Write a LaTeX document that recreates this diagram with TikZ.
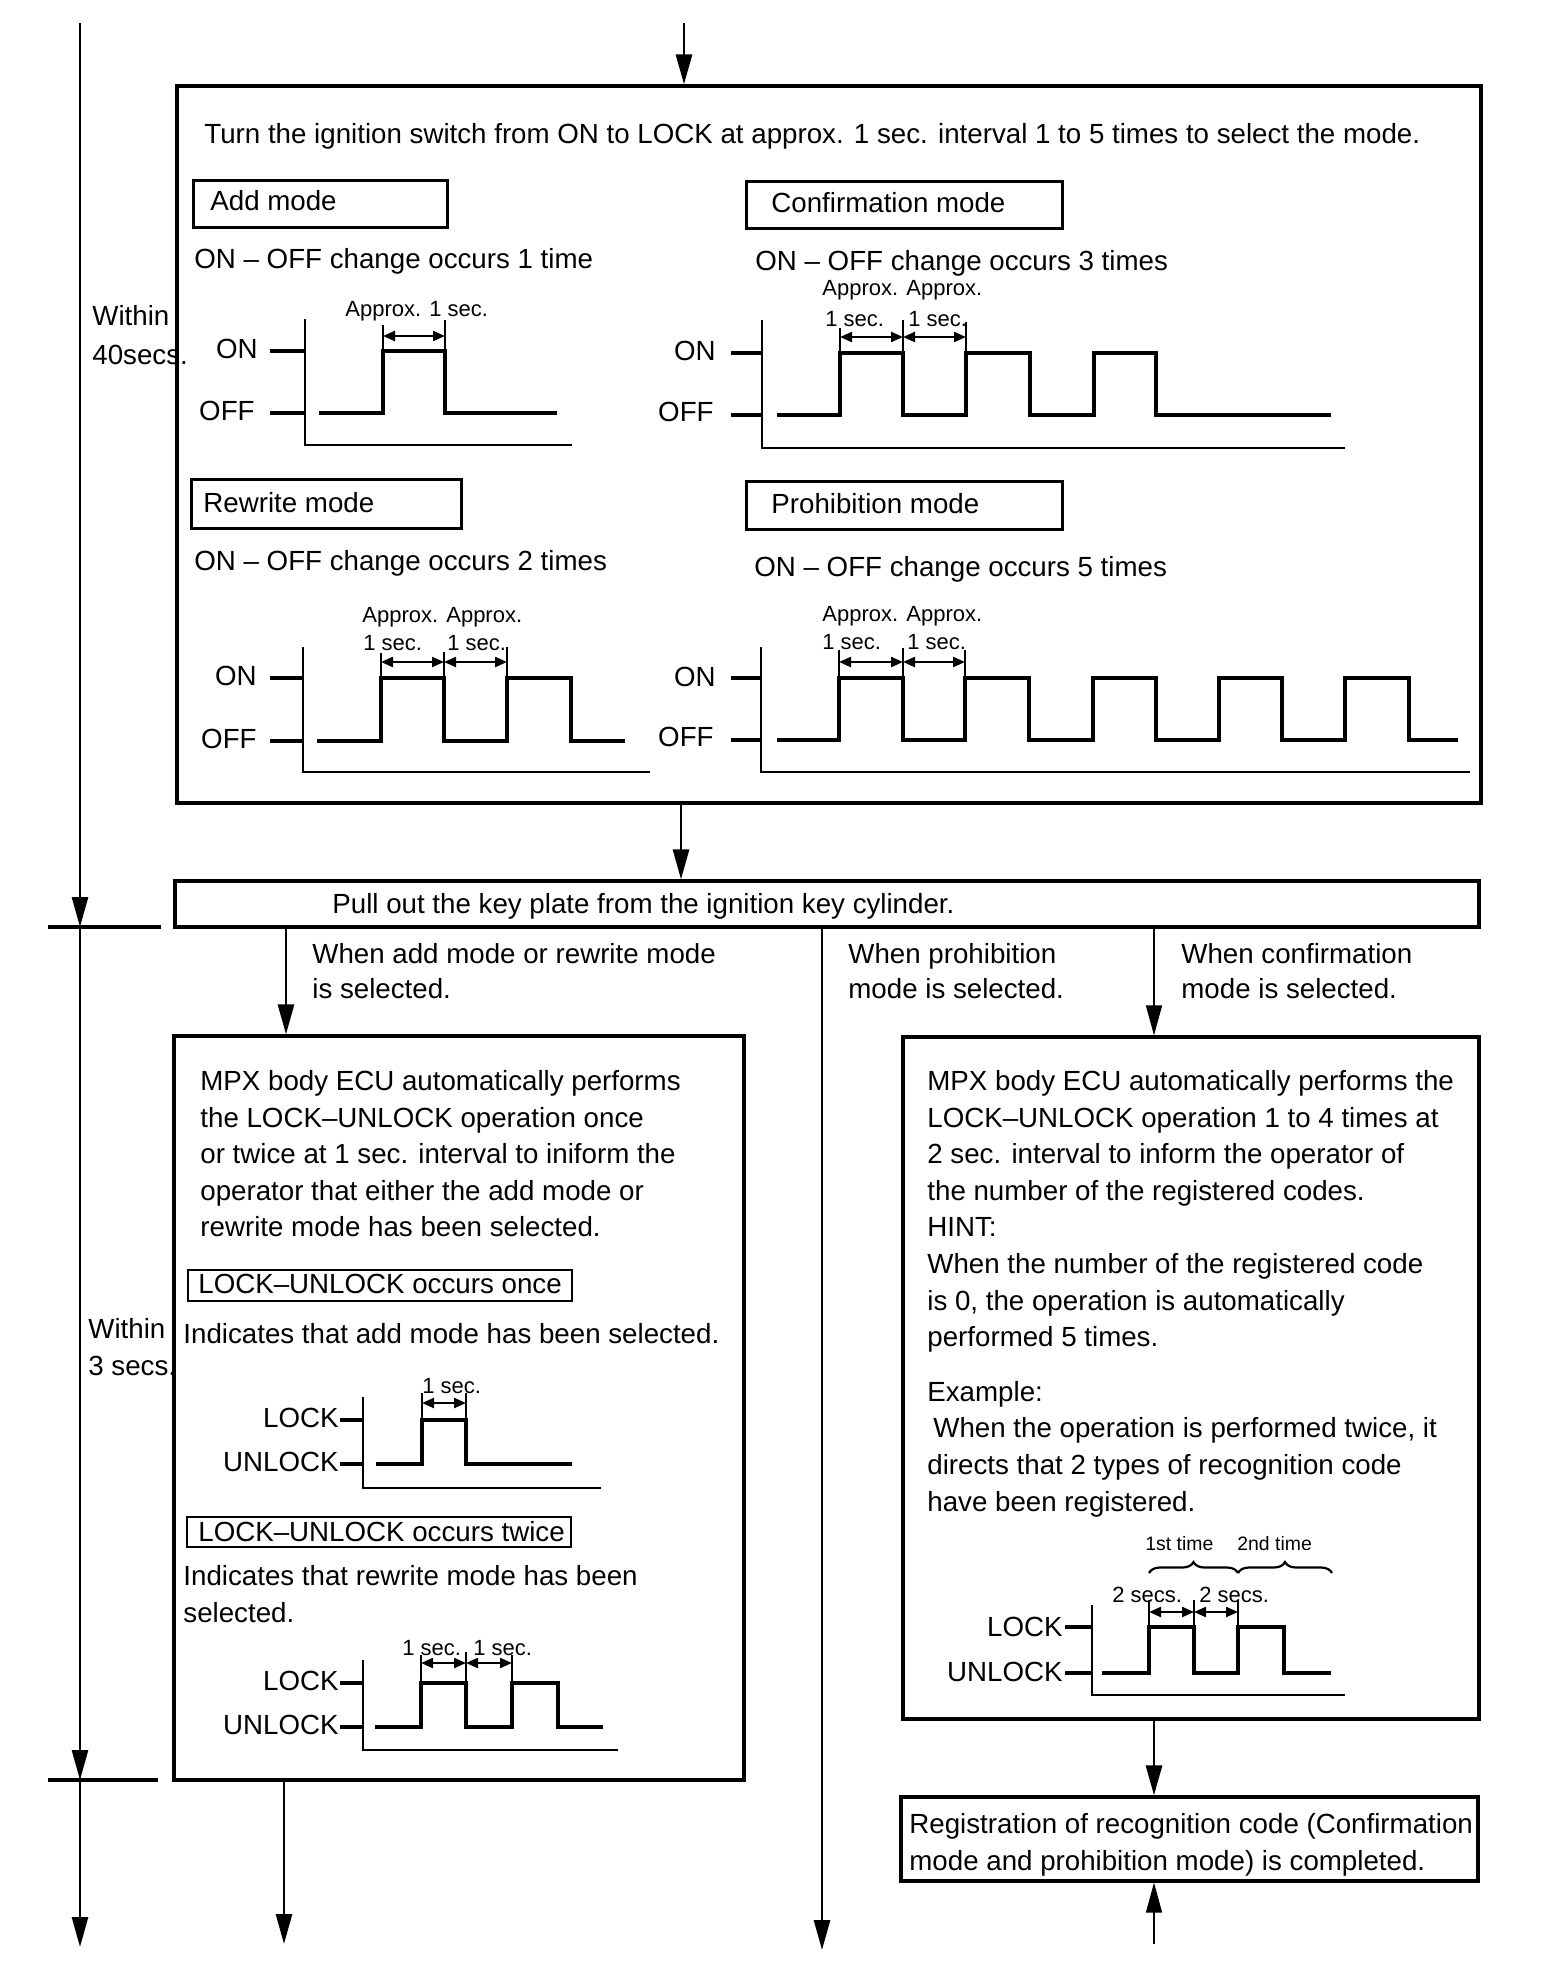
\documentclass[tikz,border=0pt]{standalone}
\usepackage{fontspec}
\setmainfont{Liberation Sans}
\usetikzlibrary{arrows.meta,decorations.pathreplacing,fit}
\begin{document}
\begin{tikzpicture}[x=0.5pt,y=-0.5pt,
  every node/.style={inner sep=0pt},
  mainf/.style={font=\fontsize{13.85}{18.3}\selectfont},
  smallf/.style={font=\fontsize{11}{13}\selectfont},
  tinyf/.style={font=\fontsize{9.7}{12}\selectfont},
  txt/.style={mainf, anchor=base west},
  stxt/.style={smallf, anchor=base west},
  para/.style={mainf, anchor=north west, align=left},
  bigbox/.style={draw, line width=1.6pt, inner sep=0pt},
  lblbox/.style={draw, line width=1.5pt, inner sep=0pt},
  thinbox/.style={draw, line width=1pt, inner sep=0pt},
  flow/.style={line width=1.4pt, -{Triangle[length=15pt,width=8pt]}},
  thinflow/.style={line width=0.7pt, -{Triangle[length=15pt,width=8pt]}},
  tickline/.style={line width=1.6pt},
  sig/.style={line width=1.6pt},
  axisline/.style={line width=1.3pt},
  extline/.style={line width=0.9pt},
  dimarrow/.style={line width=1.1pt, {Triangle[length=6pt,width=5pt]}-{Triangle[length=6pt,width=5pt]}},
  lvl/.style={mainf, anchor=east},
  bracest/.style={line width=1.1pt, decorate, decoration={brace, amplitude=5.5pt}}
]
\fill[white] (0,0) rectangle (1568,1986);
\useasboundingbox (0,0) rectangle (1568,1986);

% ---------- main boxes ----------
\node[bigbox, fit={(177,86) (1481,803)}] (box1) {};
\node[bigbox, fit={(175,881) (1479,927)}] (pull) {};
\node[bigbox, fit={(174,1036) (744,1780)}] (lbox) {};
\node[bigbox, fit={(903,1037) (1479,1719)}] (rbox) {};
\node[bigbox, fit={(901,1797) (1478,1881)}] (reg) {};

% ---------- coordinates for free ends ----------
\coordinate (topin) at (684,23);
\coordinate (b1x) at (681,0);
\coordinate (lbr) at (286,0);
\coordinate (mid) at (822,1950);
\coordinate (rbr) at (1154,0);
\coordinate (lout) at (284,1944);
\coordinate (rin) at (1154,1944);
\coordinate (tl0) at (80,23);
\coordinate (tk1) at (80,927);
\coordinate (tk2) at (80,1780);
\coordinate (tl3) at (80,1947);

% ---------- connectors ----------
\draw[flow] (topin) -- (box1.north -| topin);
\draw[flow] (box1.south -| b1x) -- (pull.north -| b1x);
\draw[flow] (pull.south -| lbr) -- (lbox.north -| lbr);
\draw[flow] (pull.south -| mid) -- (mid);
\draw[thinflow] (pull.south -| rbr) -- (rbox.north -| rbr);
\draw[flow] (lbox.south -| lout) -- (lout);
\draw[flow] (rbox.south -| rin) -- (reg.north -| rin);
\draw[thinflow] (rin) -- (reg.south -| rin);

% ---------- time line ----------
\draw[flow] (tl0) -- (tk1);
\draw[flow] (tk1) -- (tk2);
\draw[flow] (tk2) -- (tl3);
\draw[tickline] (48,927) -- (161,927);
\draw[tickline] (48,1780) -- (158,1780);
\node[para, font=\fontsize{13.85}{19.5}\selectfont] (w40) at (92,305) {Within\\40secs.};
\node[para, font=\fontsize{13.85}{18.5}\selectfont] (w3) at (88,1318) {Within\\3 secs.};

% ---------- box 1 content ----------
\node[txt] (turn) at (204,143) {Turn the ignition switch from ON to LOCK at approx. 1 sec. interval 1 to 5 times to select the mode.};

\node[lblbox, fit={(193,180) (447,227)}] (addb) {};
\node[txt] (addt) at (210,210) {Add mode};
\node[lblbox, fit={(746,181) (1062,228)}] (confb) {};
\node[txt] (conft) at (771,212) {Confirmation mode};
\node[lblbox, fit={(191,479) (461,528)}] (rewb) {};
\node[txt] (rewt) at (203,512) {Rewrite mode};
\node[lblbox, fit={(746,481) (1062,529)}] (prob) {};
\node[txt] (prot) at (771,513) {Prohibition mode};

\node[txt] (addc) at (194,268) {ON – OFF change occurs 1 time};
\node[txt] (confc) at (755,270) {ON – OFF change occurs 3 times};
\node[txt] (rewc) at (194,570) {ON – OFF change occurs 2 times};
\node[txt] (proc) at (754,576) {ON – OFF change occurs 5 times};

% add mode chart
\node[lvl] (aon) at (258,349) {ON};
\node[lvl] (aoff) at (255,411) {OFF};
\draw[tickline] (270,351) -- (305,351);
\draw[tickline] (270,413) -- (305,413);
\draw[axisline] (305,319) -- (305,445) -- (572,445);
\draw[sig] (319,413) -- (383,413) -- (383,351) -- (445,351) -- (445,413) -- (557,413);
\draw[extline] (383,325) -- (383,351);
\draw[extline] (445,320) -- (445,351);
\draw[dimarrow] (383,336) -- (445,336);
\node[stxt] (ad1) at (345,316) {Approx. 1 sec.};

% confirmation chart
\node[lvl] (con) at (716,351) {ON};
\node[lvl] (coff) at (714,412) {OFF};
\draw[tickline] (731,353) -- (762,353);
\draw[tickline] (731,415) -- (762,415);
\draw[axisline] (762,320) -- (762,448) -- (1345,448);
\draw[sig] (777,415) -- (840,415) -- (840,353) -- (903,353) -- (903,415) -- (966,415) -- (966,353) -- (1030,353) -- (1030,415) -- (1094,415) -- (1094,353) -- (1156,353) -- (1156,415) -- (1331,415);
\draw[extline] (840,328) -- (840,353);
\draw[extline] (903,320) -- (903,353);
\draw[extline] (966,322) -- (966,353);
\draw[dimarrow] (840,337) -- (903,337);
\draw[dimarrow] (903,337) -- (966,337);
\node[stxt] (cap) at (822,295) {Approx. Approx.};
\node[stxt] (cs1) at (825,326) {1 sec.};
\node[stxt] (cs2) at (908,326) {1 sec.};

% rewrite chart
\node[lvl] (ron) at (257,676) {ON};
\node[lvl] (roff) at (257,739) {OFF};
\draw[tickline] (270,678) -- (303,678);
\draw[tickline] (270,741) -- (303,741);
\draw[axisline] (303,647) -- (303,772) -- (650,772);
\draw[sig] (317,741) -- (381,741) -- (381,678) -- (444,678) -- (444,741) -- (507,741) -- (507,678) -- (571,678) -- (571,741) -- (625,741);
\draw[extline] (381,653) -- (381,678);
\draw[extline] (444,652) -- (444,678);
\draw[extline] (507,647) -- (507,678);
\draw[dimarrow] (381,662) -- (444,662);
\draw[dimarrow] (444,662) -- (507,662);
\node[stxt] (rap) at (362,622) {Approx. Approx.};
\node[stxt] (rs1) at (363,650) {1 sec.};
\node[stxt] (rs2) at (447,650) {1 sec.};

% prohibition chart
\node[lvl] (pon) at (716,677) {ON};
\node[lvl] (poff) at (714,737) {OFF};
\draw[tickline] (731,678) -- (761,678);
\draw[tickline] (731,740) -- (761,740);
\draw[axisline] (761,647) -- (761,772) -- (1470,772);
\draw[sig] (777,740) -- (839,740) -- (839,678) -- (903,678) -- (903,740) -- (965,740) -- (965,678) -- (1029,678) -- (1029,740) -- (1093,740) -- (1093,678) -- (1156,678) -- (1156,740) -- (1219,740) -- (1219,678) -- (1282,678) -- (1282,740) -- (1345,740) -- (1345,678) -- (1409,678) -- (1409,740) -- (1458,740);
\draw[extline] (839,650) -- (839,678);
\draw[extline] (903,648) -- (903,678);
\draw[extline] (965,650) -- (965,678);
\draw[dimarrow] (839,662) -- (903,662);
\draw[dimarrow] (903,662) -- (965,662);
\node[stxt] (pap) at (822,621) {Approx. Approx.};
\node[stxt] (ps1) at (822,649) {1 sec.};
\node[stxt] (ps2) at (907,649) {1 sec.};

% ---------- pull-out box and branch labels ----------
\node[txt] (pullt) at (332,913) {Pull out the key plate from the ignition key cylinder.};
\node[para, font=\fontsize{13.85}{17.5}\selectfont] (wadd) at (312,943) {When add mode or rewrite mode\\is selected.};
\node[para, font=\fontsize{13.85}{17.5}\selectfont] (wpro) at (848,943) {When prohibition\\mode is selected.};
\node[para, font=\fontsize{13.85}{17.5}\selectfont] (wcon) at (1181,943) {When confirmation\\mode is selected.};

% ---------- left box content ----------
\node[para] (lpara) at (200,1070) {MPX body ECU automatically performs\\
the LOCK–UNLOCK operation once\\
or twice at 1 sec. interval to iniform the\\
operator that either the add mode or\\
rewrite mode has been selected.};

\node[thinbox, fit={(188,1270) (572,1301)}] (onceb) {};
\node[txt] (oncet) at (198,1293) {LOCK–UNLOCK occurs once};
\node[txt] (ind1) at (183,1343) {Indicates that add mode has been selected.};

\node[lvl] (l1lock) at (339,1418) {LOCK};
\node[lvl] (l1unl) at (339,1462) {UNLOCK};
\draw[tickline] (340,1420) -- (363,1420);
\draw[tickline] (340,1464) -- (363,1464);
\draw[axisline] (363,1397) -- (363,1488) -- (601,1488);
\draw[sig] (376,1464) -- (422,1464) -- (422,1420) -- (466,1420) -- (466,1464) -- (572,1464);
\draw[extline] (422,1393) -- (422,1420);
\draw[extline] (466,1393) -- (466,1420);
\draw[dimarrow] (422,1403) -- (466,1403);
\node[stxt] (l1s) at (422,1393) {1 sec.};

\node[thinbox, fit={(187,1517) (571,1547)}] (twiceb) {};
\node[txt] (twicet) at (198,1541) {LOCK–UNLOCK occurs twice};
\node[para, font=\fontsize{13.85}{18.5}\selectfont] (ind2) at (183,1565) {Indicates that rewrite mode has been\\selected.};

\node[lvl] (l2lock) at (339,1681) {LOCK};
\node[lvl] (l2unl) at (339,1725) {UNLOCK};
\draw[tickline] (340,1683) -- (363,1683);
\draw[tickline] (340,1727) -- (363,1727);
\draw[axisline] (363,1660) -- (363,1750) -- (618,1750);
\draw[sig] (375,1727) -- (421,1727) -- (421,1683) -- (466,1683) -- (466,1727) -- (512,1727) -- (512,1683) -- (558,1683) -- (558,1727) -- (603,1727);
\draw[extline] (421,1655) -- (421,1683);
\draw[extline] (466,1652) -- (466,1683);
\draw[extline] (512,1655) -- (512,1683);
\draw[dimarrow] (421,1663) -- (466,1663);
\draw[dimarrow] (466,1663) -- (512,1663);
\node[stxt] (l2s1) at (402,1655) {1 sec.};
\node[stxt] (l2s2) at (473,1655) {1 sec.};

% ---------- right box content ----------
\node[para] (rpara) at (927,1070) {MPX body ECU automatically performs the\\
LOCK–UNLOCK operation 1 to 4 times at\\
2 sec. interval to inform the operator of\\
the number of the registered codes.\\
HINT:\\
When the number of the registered code\\
is 0, the operation is automatically\\
performed 5 times.\\[9pt]
Example:\\
\hspace*{3pt}When the operation is performed twice, it\\
directs that 2 types of recognition code\\
have been registered.};

\node[tinyf, anchor=base west] (t1st) at (1145,1550) {1st time};
\node[tinyf, anchor=base west] (t2nd) at (1237,1550) {2nd time};
\draw[bracest] (1149,1573) -- (1238,1573);
\draw[bracest] (1238,1573) -- (1332,1573);
\node[stxt] (r2s1) at (1112,1602) {2 secs.};
\node[stxt] (r2s2) at (1199,1602) {2 secs.};

\node[lvl] (r3lock) at (1063,1627) {LOCK};
\node[lvl] (r3unl) at (1063,1672) {UNLOCK};
\draw[tickline] (1065,1627) -- (1092,1627);
\draw[tickline] (1065,1673) -- (1092,1673);
\draw[axisline] (1092,1605) -- (1092,1695) -- (1345,1695);
\draw[sig] (1102,1673) -- (1149,1673) -- (1149,1627) -- (1194,1627) -- (1194,1673) -- (1238,1673) -- (1238,1627) -- (1284,1627) -- (1284,1673) -- (1331,1673);
\draw[extline] (1149,1600) -- (1149,1627);
\draw[extline] (1194,1600) -- (1194,1627);
\draw[extline] (1238,1600) -- (1238,1627);
\draw[dimarrow] (1149,1612) -- (1194,1612);
\draw[dimarrow] (1194,1612) -- (1238,1612);

% ---------- registration box ----------
\node[para, font=\fontsize{13.85}{18.5}\selectfont] (regt) at (909,1813) {Registration of recognition code (Confirmation\\mode and prohibition mode) is completed.};

\end{tikzpicture}
\end{document}
